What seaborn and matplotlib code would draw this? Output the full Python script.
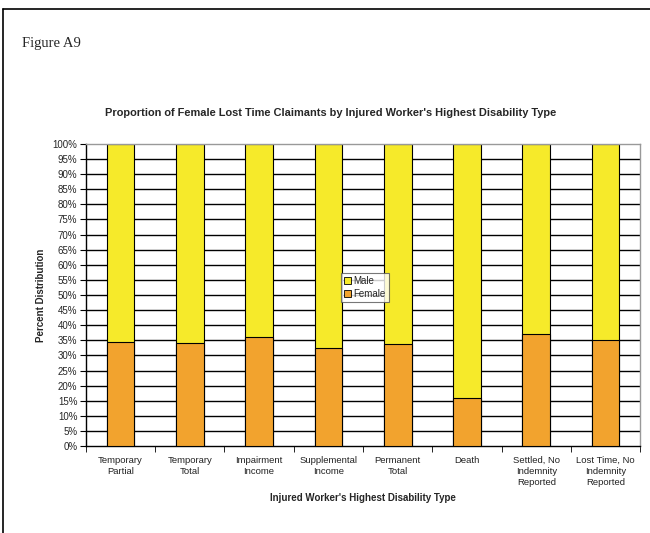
import numpy as np
import pandas as pd
import matplotlib
matplotlib.use("Agg")
import matplotlib.pyplot as plt
import seaborn as sns
from matplotlib.patches import Rectangle
from matplotlib.lines import Line2D

categorias = ["Temporary\nPartial", "Temporary\nTotal", "Impairment\nIncome",
              "Supplemental\nIncome", "Permanent\nTotal", "Death",
              "Settled, No\nIndemnity\nReported", "Lost Time, No\nIndemnity\nReported"]
female = [34.4, 34.0, 36.0, 32.5, 33.8, 16.0, 37.1, 35.1]
male = [100 - f for f in female]

df = pd.DataFrame({"tipo": categorias, "Female": female, "Male": male})
df["total"] = df["Female"] + df["Male"]

sns.set_style("white")
plt.rcParams['font.family'] = ['Liberation Sans', 'DejaVu Sans']

fig = plt.figure(figsize=(6.5, 5.33), dpi=100)
ax = fig.add_axes([0.132, 0.163, 0.853, 0.567])

amarillo = "#F6EA2A"
naranja = "#F2A32E"

# lineas de la grilla
for v in range(5, 100, 5):
    ax.axhline(v, color="black", lw=1.0, zorder=0)

sns.barplot(data=df, x="tipo", y="total", color=amarillo, width=0.4,
            edgecolor="black", linewidth=0.8, saturation=1, ax=ax, zorder=2)
sns.barplot(data=df, x="tipo", y="Female", color=naranja, width=0.4,
            edgecolor="black", linewidth=0.8, saturation=1, ax=ax, zorder=3)

ax.set_ylim(0, 100)
ax.set_xlim(-0.5, len(categorias) - 0.5)
ax.set_yticks(range(0, 101, 5))
ax.set_yticklabels([f"{v}%" for v in range(0, 101, 5)], fontsize=7)
ax.set_xticks(range(len(categorias)))
ax.set_xticklabels(categorias, fontsize=6.8, color="#222222", linespacing=1.3)
ax.tick_params(axis="x", length=0, pad=7)
ax.set_xticks(np.arange(-0.5, len(categorias), 1), minor=True)
ax.tick_params(axis="x", which="minor", length=4, direction="out", color="black", bottom=True)
ax.tick_params(axis="y", length=4, direction="out", color="black", left=True, pad=2)

for lado in ["top", "right"]:
    ax.spines[lado].set_color("#999999")
    ax.spines[lado].set_linewidth(1.0)
for lado in ["left", "bottom"]:
    ax.spines[lado].set_color("black")
    ax.spines[lado].set_linewidth(1.0)

ax.set_xlabel("Injured Worker's Highest Disability Type", fontsize=7, fontweight="bold", labelpad=4)
ax.set_ylabel("Percent Distribution", fontsize=7, fontweight="bold", labelpad=5)

handles = [Rectangle((0, 0), 1, 1, facecolor=amarillo, edgecolor="black", lw=0.6),
           Rectangle((0, 0), 1, 1, facecolor=naranja, edgecolor="black", lw=0.6)]
leg = ax.legend(handles, ["Male", "Female"], loc="center", bbox_to_anchor=(0.503, 0.525),
                fontsize=7, frameon=True, fancybox=False, edgecolor="#555555",
                handlelength=0.7, handleheight=0.7, handletextpad=0.3,
                borderpad=0.3, labelspacing=0.3, borderaxespad=0)
leg.get_frame().set_linewidth(0.8)
leg.set_zorder(5)

fig.text(0.508, 0.788, "Proportion of Female Lost Time Claimants by Injured Worker's Highest Disability Type",
         ha="center", va="center", fontsize=7.9, fontweight="bold")
fig.text(0.034, 0.919, "Figure A9", ha="left", va="center", fontsize=10.5,
         family=["Liberation Serif", "DejaVu Serif"])

# marco exterior (izquierda y arriba)
fig.add_artist(Line2D([0.005, 0.005], [0.0, 0.983], color="black", lw=1.2, transform=fig.transFigure))
fig.add_artist(Line2D([0.005, 1.0], [0.983, 0.983], color="black", lw=1.2, transform=fig.transFigure))

fig.savefig("out.png", dpi=100)
